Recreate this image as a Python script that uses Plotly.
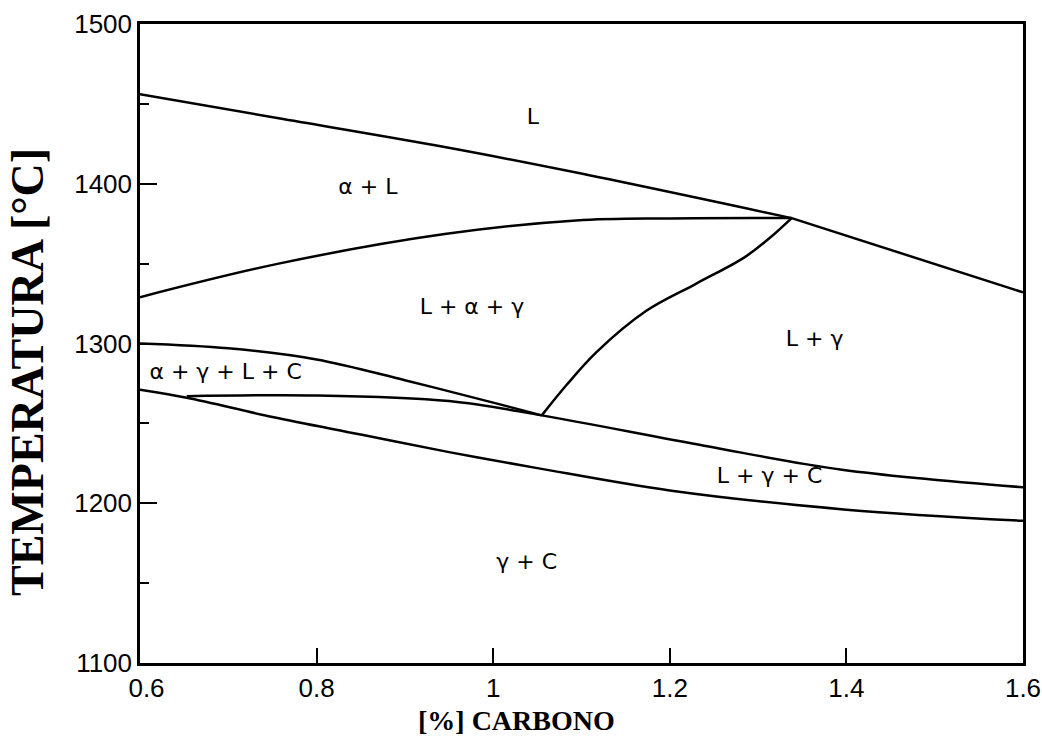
import plotly.graph_objects as go

# ---- data (wt% C, temperature °C) ----
liq_left_c = [0.6, 0.757, 0.945, 1.094, 1.338]
liq_left_t = [1456, 1441, 1423, 1407, 1378.5]
liq_right_c = [1.338, 1.6]
liq_right_t = [1378.5, 1332]

alpha_c = [0.6, 0.757, 0.945, 1.094, 1.2, 1.338]
alpha_t = [1329, 1350, 1368.5, 1377, 1378.3, 1378.5]

gamma_c = [1.055, 1.083, 1.117, 1.173, 1.229, 1.285, 1.313, 1.338]
gamma_t = [1255, 1274, 1294.6, 1320.3, 1337.2, 1354.1, 1366, 1378.5]

four_top_c = [0.6, 0.7, 0.8, 0.9, 1.0, 1.055]
four_top_t = [1300, 1297, 1290, 1277, 1263, 1255]

mid_c = [0.653, 0.8, 0.95, 1.055, 1.239, 1.395, 1.6]
mid_t = [1267, 1267.5, 1264, 1255, 1236, 1221, 1210]

low_c = [0.6, 0.653, 0.75, 0.85, 0.95, 1.05, 1.2, 1.4, 1.6]
low_t = [1271, 1266, 1254, 1243, 1232, 1222, 1208, 1196, 1189]

labels = ["L", "α + L", "L + α + γ", "L + γ", "α + γ + L + C", "L + γ + C", "γ + C"]
label_c = [1.045, 0.858, 0.976, 1.364, 0.697, 1.313, 1.038]
label_t = [1441, 1397, 1322, 1302, 1281, 1216, 1162]

x_ticks = [0.6, 0.8, 1.0, 1.2, 1.4, 1.6]
x_ticktext = ["\u20020.6", "0.8", "1", "1.2", "1.4", "1.6"]
y_ticks = [1100, 1200, 1300, 1400, 1500]

fig = go.Figure()
line_style = dict(color="black", width=2.5)
for cx, ty, shape in [
    (liq_left_c, liq_left_t, "spline"),
    (liq_right_c, liq_right_t, "linear"),
    (alpha_c, alpha_t, "spline"),
    (gamma_c, gamma_t, "spline"),
    (four_top_c, four_top_t, "spline"),
    (mid_c, mid_t, "spline"),
    (low_c, low_t, "spline"),
]:
    fig.add_trace(go.Scatter(x=cx, y=ty, mode="lines",
                             line=dict(shape=shape, smoothing=1.0, **line_style),
                             showlegend=False, hoverinfo="skip"))

fig.add_trace(go.Scatter(x=label_c, y=label_t, mode="text", text=labels,
                         textfont=dict(family="DejaVu Sans", size=22, color="black"),
                         showlegend=False, hoverinfo="skip"))

axis_common = dict(showline=True, linecolor="black", linewidth=2.5, mirror=True,
                   showgrid=False, zeroline=False, ticks="inside", automargin=False,
                   tickcolor="black", tickwidth=2, ticklabeloverflow="allow",
                   tickfont=dict(family="Liberation Sans", size=26, color="black"))

fig.update_xaxes(range=[0.6, 1.6], tickvals=x_ticks, ticktext=x_ticktext,
                 ticklen=15, **axis_common)
fig.update_yaxes(range=[1100, 1500], tickvals=y_ticks, ticklen=17,
                 minor=dict(ticks="inside", ticklen=9, tickwidth=2, tickcolor="black",
                            tickvals=[1150, 1250, 1350, 1450]),
                 **axis_common)

fig.add_annotation(text="<b>[%] CARBONO</b>", xref="paper", yref="paper",
                   x=(516 - 140) / 883, y=-(720 - 663) / 639, showarrow=False,
                   font=dict(family="Liberation Serif", size=28, color="black"),
                   xanchor="center", yanchor="middle")
fig.add_annotation(text="<b>TEMPERATURA [°C]</b>", xref="paper", yref="paper",
                   x=-(140 - 27) / 883, y=(663 - 372) / 639, showarrow=False,
                   textangle=-90,
                   font=dict(family="Liberation Serif", size=46, color="black"),
                   xanchor="center", yanchor="middle")

fig.update_layout(width=1042, height=754, plot_bgcolor="white", paper_bgcolor="white",
                  margin=dict(l=140, r=19, t=24, b=91))

fig.write_html("out.html")
